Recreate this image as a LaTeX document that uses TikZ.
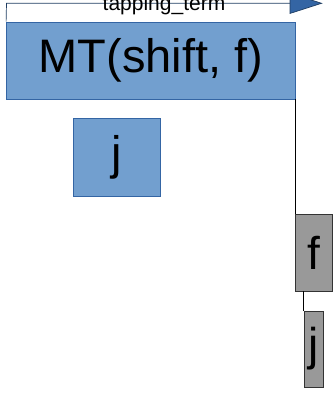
\documentclass[tikz,border=0pt]{standalone}
\usepackage{fontspec}
\setmainfont{Liberation Sans}
\usetikzlibrary{arrows.meta}
\definecolor{boxblue}{RGB}{114,159,207}
\definecolor{edgeblue}{RGB}{52,101,164}
\definecolor{boxgray}{RGB}{153,153,153}
\definecolor{edgegray}{RGB}{51,51,51}
\tikzset{
  bluebox/.style={draw=edgeblue, fill=boxblue, line width=0.8pt, inner sep=0pt, font=\fontsize{47}{50}\selectfont},
  graybox/.style={draw=edgegray, fill=boxgray, line width=0.8pt, inner sep=0pt, font=\fontsize{46}{50}\selectfont},
  link/.style={draw=black, line width=0.8pt},
  toplink/.style={draw=edgeblue!60!black, line width=0.7pt, -{Triangle[length=33pt,width=21pt,fill=edgeblue]}},
}
\begin{document}
\begin{tikzpicture}[x=1pt,y=-1pt]
\useasboundingbox (0,0) rectangle (334,404);
\node[bluebox, minimum width=288.5pt, minimum height=77pt] (mt) at (150.75,60.5) {MT(shift, f)};
\node[bluebox, minimum width=87pt, minimum height=78pt] (j1) at (116.5,157) {j};
\node[graybox, minimum width=37.5pt, minimum height=77pt] (f) at (313.75,252.5) {f};
\node[graybox, minimum width=19pt, minimum height=76pt] (j2) at (313.5,349) {j};
\coordinate (corner) at (6.5,3.3);
\coordinate (target) at (322.7,3.3);
\draw[toplink] (mt.north west) -- (corner) -- (target);
\node[anchor=base, font=\fontsize{21}{24}\selectfont, inner sep=0pt] (lbl) at (164,11) {tapping\_term};
\draw[link] (mt.south east) -- (mt.south east |- f.north);
\draw[link] (j2.north west |- f.south) -- (j2.north west);
\end{tikzpicture}
\end{document}
